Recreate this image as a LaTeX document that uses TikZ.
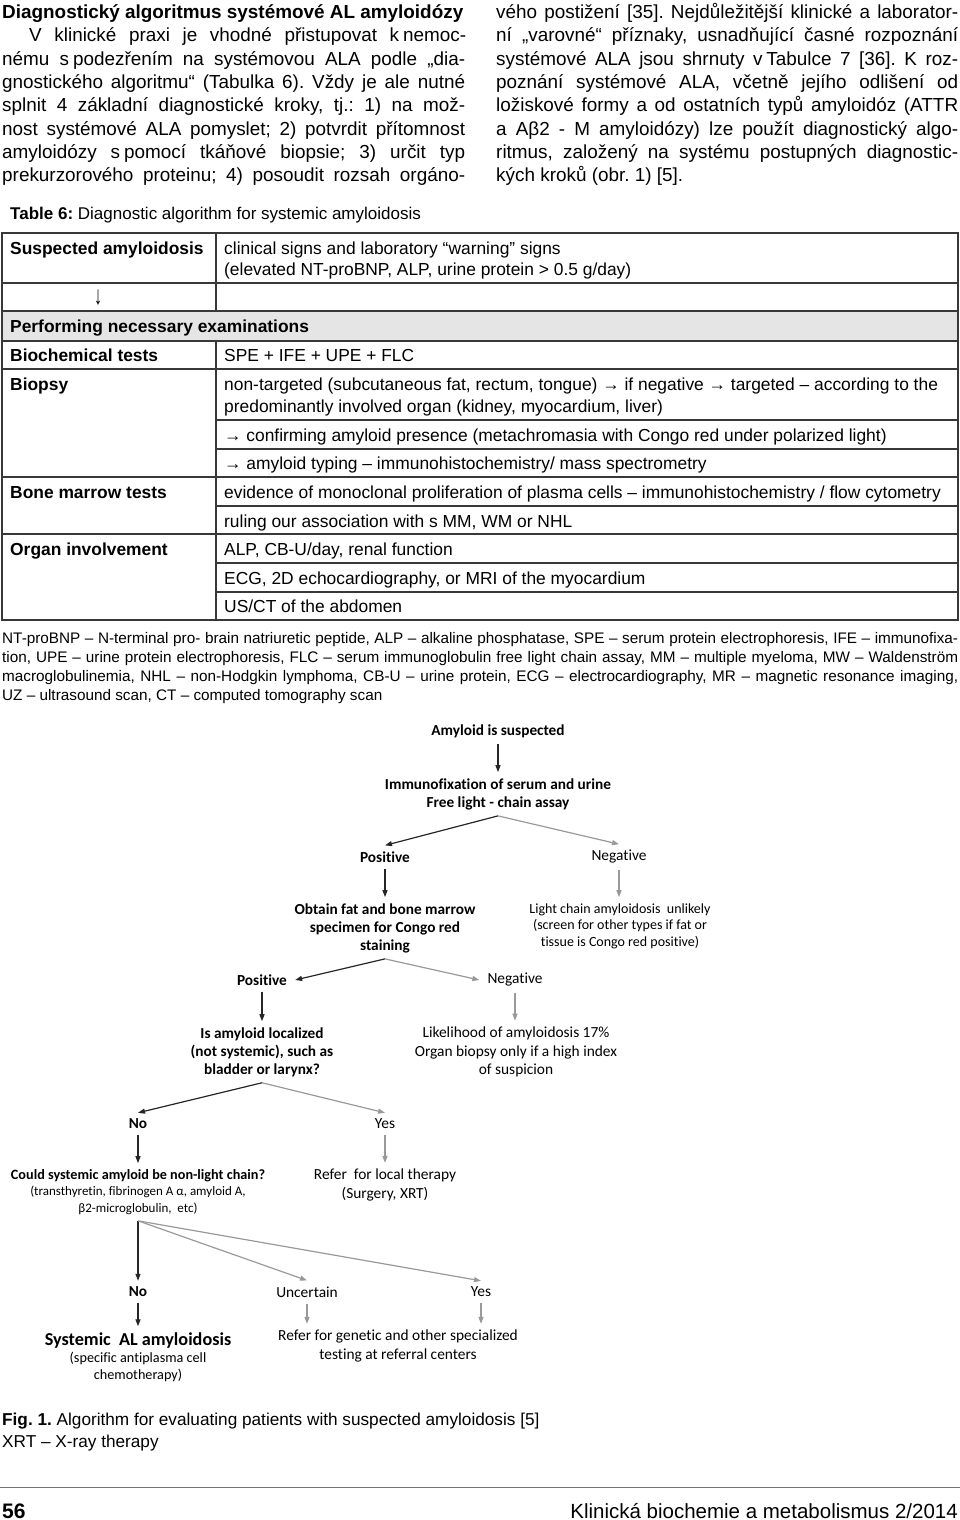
\documentclass[tikz,border=0pt]{standalone}
\usepackage{fontspec}
\usepackage{graphicx}
\setmainfont{Liberation Sans}
\newfontfamily\calib[Ligatures=NoCommon]{Carlito}
\usetikzlibrary{arrows.meta}
\frenchspacing

\newcommand{\jleft}[1]{\makebox[463pt][s]{#1}}
\newcommand{\jright}[1]{\makebox[462pt][s]{#1}}
\newcommand{\jnote}[1]{\makebox[956pt][s]{#1}}

\tikzset{
  body/.style={anchor=base west, inner sep=0pt, font=\fontsize{18.9}{23}\selectfont},
  cell/.style={anchor=base west, inner sep=0pt, font=\fontsize{17.4}{21}\selectfont},
  cellb/.style={cell, font=\fontsize{17.4}{21}\selectfont\bfseries},
  note/.style={anchor=base west, inner sep=0pt, font=\fontsize{15.3}{19}\selectfont},
  tline/.style={draw=black!78, line width=1.3pt},
  fc/.style={align=center, inner xsep=4pt, inner ysep=6pt, font=\calib\fontsize{15.4}{18.5}\selectfont},
  fcb/.style={fc, font=\calib\bfseries\fontsize{15.3}{18}\selectfont},
  fcs/.style={fc, font=\calib\fontsize{14}{16.5}\selectfont},
  blk/.style={-{Triangle[length=7pt,width=5pt]}, line width=1.2pt, black!85},
  gry/.style={blk, black!40}
}

\begin{document}
\begin{tikzpicture}[x=1pt, y=-1pt]
\useasboundingbox (0,0) rectangle (960,1520);

\node[body, font=\fontsize{18.9}{23}\selectfont\bfseries] (t0) at (2,18.5) {Diagnostický algoritmus systémové AL amyloidózy};
\node[body] (l1) at (29,41.8) {\makebox[437pt][s]{V klinické praxi je vhodné přistupovat k\hspace{4pt}nemoc-}};
\node[body] (l2) at (2,65.1) {\jleft{nému s\hspace{4pt}podezřením na systémovou ALA podle „dia-}};
\node[body] (l3) at (2,88.4) {\jleft{gnostického algoritmu“ (Tabulka 6). Vždy je ale nutné}};
\node[body] (l4) at (2,111.7) {\jleft{splnit 4 základní diagnostické kroky, tj.: 1) na mož-}};
\node[body] (l5) at (2,135) {\jleft{nost systémové ALA pomyslet; 2) potvrdit přítomnost}};
\node[body] (l6) at (2,158.3) {\jleft{amyloidózy s\hspace{4pt}pomocí tkáňové biopsie; 3) určit typ}};
\node[body] (l7) at (2,181.6) {\jleft{prekurzorového proteinu; 4) posoudit rozsah orgáno-}};

\node[body] (r0) at (496,18.5) {\jright{vého postižení [35]. Nejdůležitější klinické a laborator-}};
\node[body] (r1) at (496,41.8) {\jright{ní „varovné“ příznaky, usnadňující časné rozpoznání}};
\node[body] (r2) at (496,65.1) {\jright{systémové ALA jsou shrnuty v\hspace{4pt}Tabulce 7 [36]. K roz-}};
\node[body] (r3) at (496,88.4) {\jright{poznání systémové ALA, včetně jejího odlišení od}};
\node[body] (r4) at (496,111.7) {\jright{ložiskové formy a od ostatních typů amyloidóz (ATTR}};
\node[body] (r5) at (496,135) {\jright{a Aβ2 - M amyloidózy) lze použít diagnostický algo-}};
\node[body] (r6) at (496,158.3) {\jright{ritmus, založený na systému postupných diagnostic-}};
\node[body] (r7) at (496,181.6) {kých kroků (obr. 1) [5].};

\node[cell, font=\fontsize{17}{21}\selectfont] (tcap) at (10,219) {\textbf{Table 6:} Diagnostic algorithm for systemic amyloidosis};

\fill[black!10] (2,311) rectangle (958,341);
\draw[tline] (2,233) rectangle (958,620);
\foreach \y in {283,311,341,369,477,534}
  \draw[tline] (2,\y) -- (958,\y);
\foreach \y in {420,449,506,563,592}
  \draw[tline] (216,\y) -- (958,\y);
\draw[tline] (216,233) -- (216,311);
\draw[tline] (216,341) -- (216,620);

\node[cell] (c1) at (10,254) {\bfseries Suspected amyloidosis};
\node[cell] (d1) at (224,254) {clinical signs and laboratory “warning” signs};
\node[cell] (d1b) at (224,275) {(elevated NT-proBNP, ALP, urine protein > 0.5 g/day)};
\node[cell, anchor=center, font=\fontsize{20}{20}\selectfont] (down) at (98,298) {\scalebox{0.8}[1.3]{↓}};
\node[cellb] (c2) at (10,332) {Performing necessary examinations};
\node[cellb] (c3) at (10,361) {Biochemical tests};
\node[cell] (d3) at (224,361) {SPE + IFE + UPE + FLC};
\node[cellb] (c4) at (10,390) {Biopsy};
\node[cell] (d4) at (224,390) {non-targeted (subcutaneous fat, rectum, tongue) → if negative → targeted – according to the};
\node[cell] (d4b) at (224,412) {predominantly involved organ (kidney, myocardium, liver)};
\node[cell] (d5) at (224,441) {→ confirming amyloid presence (metachromasia with Congo red under polarized light)};
\node[cell] (d6) at (224,469) {→ amyloid typing – immunohistochemistry/ mass spectrometry};
\node[cellb] (c7) at (10,498) {Bone marrow tests};
\node[cell] (d7) at (224,498) {evidence of monoclonal proliferation of plasma cells – immunohistochemistry / flow cytometry};
\node[cell] (d8) at (224,527) {ruling our association with s MM, WM or NHL};
\node[cellb] (c9) at (10,555) {Organ involvement};
\node[cell] (d9) at (224,555) {ALP, CB-U/day, renal function};
\node[cell] (d10) at (224,584) {ECG, 2D echocardiography, or MRI of the myocardium};
\node[cell] (d11) at (224,612) {US/CT of the abdomen};

\node[note] (n1) at (2,643) {\jnote{NT-proBNP – N-terminal pro- brain natriuretic peptide, ALP – alkaline phosphatase, SPE – serum protein electrophoresis, IFE – immunofixa-}};
\node[note] (n2) at (2,662) {\jnote{tion, UPE – urine protein electrophoresis, FLC – serum immunoglobulin free light chain assay, MM – multiple myeloma, MW – Waldenström}};
\node[note] (n3) at (2,681) {\jnote{macroglobulinemia, NHL – non-Hodgkin lymphoma, CB-U – urine protein, ECG – electrocardiography, MR – magnetic resonance imaging,}};
\node[note] (n4) at (2,700) {UZ – ultrasound scan, CT – computed tomography scan};

\node[fcb] (amy) at (498,731) {Amyloid is suspected};
\node[fcb] (imm) at (498,794) {Immunofixation of serum and urine\\Free light - chain assay};
\node[fcb] (pos1) at (385,857) {Positive};
\node[fc] (neg1) at (619,857) {Negative};
\node[fcb] (obt) at (385,928) {Obtain fat and bone marrow\\specimen for Congo red\\staining};
\node[fcs] (lcu) at (620,926) {Light chain amyloidosis\ \ unlikely\\(screen for other types if fat or\\tissue is Congo red positive)};
\node[fcb, inner xsep=8pt] (pos2) at (262,980) {Positive};
\node[fc, inner xsep=8pt] (neg2) at (515,980) {Negative};
\node[fcb] (loc) at (262,1052) {Is amyloid localized\\(not systemic), such as\\bladder or larynx?};
\node[fc] (lik) at (516,1052) {Likelihood of amyloidosis 17\%\\Organ biopsy only if a high index\\of suspicion};
\node[fcb] (no1) at (138,1124) {No};
\node[fc] (yes1) at (385,1124) {Yes};
\node[fc, font=\calib\fontsize{13}{16.5}\selectfont] (cou) at (138,1192) {{\bfseries\fontsize{14.2}{16}\selectfont Could systemic amyloid be non-light chain?}\\(transthyretin, fibrinogen A α, amyloid A,\\β2-microglobulin,\ \ etc)};
\node[fc] (ref) at (385,1185) {Refer\ \ for local therapy\\(Surgery, XRT)};
\node[fcb] (no2) at (138,1292) {No};
\node[fc] (unc) at (307,1292) {Uncertain};
\node[fc] (yes2) at (481,1292) {Yes};
\node[fc, font=\calib\fontsize{14.2}{17}\selectfont] (sys) at (138,1357) {{\bfseries\fontsize{18.2}{19}\selectfont Systemic\ \ AL amyloidosis}\\(specific antiplasma cell\\chemotherapy)};
\node[fc] (gen) at (398,1346) {Refer for genetic and other specialized\\testing at referral centers};

\draw[blk] (amy) -- (imm);
\draw[blk] (imm.south) -- (pos1.north);
\draw[gry] (imm.south) -- (neg1.north);
\draw[blk] (pos1) -- (obt);
\draw[gry] (neg1.south) -- (neg1.south |- lcu.north);
\draw[blk] (obt.south) -- (pos2.east);
\draw[gry] (obt.south) -- (neg2.west);
\draw[blk] (pos2) -- (loc);
\draw[gry] (neg2.south) -- (neg2.south |- lik.north);
\draw[blk] (loc.south) -- (no1.north);
\draw[gry] (loc.south) -- (yes1.north);
\draw[blk] (no1) -- (cou);
\draw[gry] (yes1) -- (ref);
\draw[blk] (cou.south) -- (no2.north);
\draw[gry] (cou.south) -- (unc.north);
\draw[gry] (cou.south) -- (yes2.north);
\draw[blk] (no2) -- (sys);
\draw[gry] (unc.south) -- (unc.south |- gen.north);
\draw[gry] (yes2.south) -- (yes2.south |- gen.north);

\node[cell, font=\fontsize{17.2}{21}\selectfont] (fig) at (2,1425) {\textbf{Fig. 1.} Algorithm for evaluating patients with suspected amyloidosis [5]};
\node[cell, font=\fontsize{17.2}{21}\selectfont] (xrt) at (2,1447) {XRT – X-ray therapy};

\draw[black!55, line width=1pt] (0,1487) -- (960,1487);
\node[anchor=base west, inner sep=0pt, font=\fontsize{21}{24}\selectfont\bfseries] (pg) at (2,1518) {56};
\node[anchor=base east, inner sep=0pt, font=\fontsize{20.5}{24}\selectfont] (jrn) at (958,1518) {Klinická biochemie a metabolismus 2/2014};
\end{tikzpicture}
\end{document}
